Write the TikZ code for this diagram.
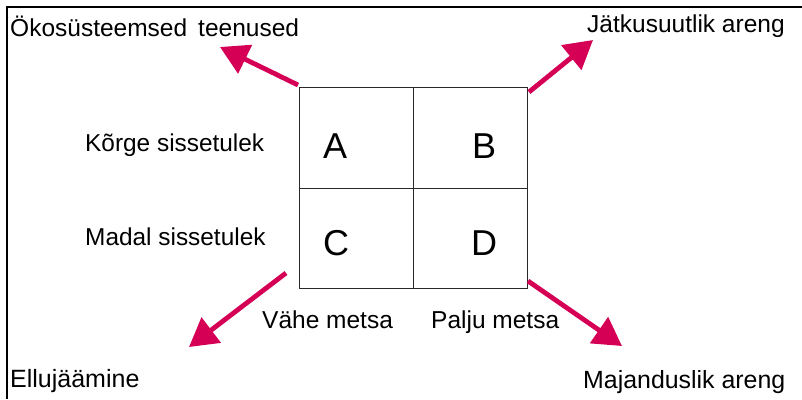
\documentclass[tikz,border=0pt]{standalone}
\usepackage{fontspec}
\setmainfont{Liberation Sans}
\usetikzlibrary{arrows.meta}
\definecolor{arrowred}{RGB}{213,0,85}
\definecolor{gridline}{RGB}{40,40,40}
\begin{document}
\begin{tikzpicture}[x=1pt,y=-1pt,
  lbl/.style={anchor=base west,inner sep=0pt,font=\fontsize{24.5}{28}\selectfont},
  sidelbl/.style={anchor=base west,inner sep=0pt,font=\fontsize{24.4}{28}\selectfont},
  letter/.style={anchor=base west,inner sep=0pt,font=\fontsize{36}{40}\selectfont},
  cell/.style={draw=gridline,line width=1.3pt,minimum width=114pt,minimum height=100.5pt,inner sep=0pt,anchor=north west},
  bigarrow/.style={draw=arrowred,line width=4.8pt,-{Triangle[length=28pt,width=31pt]}}]
  \useasboundingbox (0,0) rectangle (802,399);
  % frame on top and left
  \draw[line width=2pt] (802,7) -- (7,7) -- (7,399);

  % 2x2 grid
  \node[cell] (cA) at (299,87) {};
  \node[cell] (cB) at (413,87) {};
  \node[cell] (cC) at (299,187.5) {};
  \node[cell] (cD) at (413,187.5) {};

  \node[letter] (lA) at (323,158) {A};
  \node[letter] (lB) at (472,158) {B};
  \node[letter] (lC) at (323,255) {C};
  \node[letter] (lD) at (471,255) {D};

  % labels
  \node[lbl] (eco) at (10,36) {Ökosüsteemsed\hspace{0.45em}teenused};
  \node[lbl] (sus) at (587,32) {Jätkusuutlik areng};
  \node[sidelbl] (hi) at (85,151) {Kõrge sissetulek};
  \node[sidelbl] (lo) at (85,245) {Madal sissetulek};
  \node[lbl] (few) at (262,328) {Vähe metsa};
  \node[lbl] (many) at (431,328) {Palju metsa};
  \node[lbl,font=\fontsize{25}{29}\selectfont] (surv) at (10,387) {Ellujäämine};
  \node[lbl,font=\fontsize{24.9}{29}\selectfont] (econ) at (583,388) {Majanduslik areng};

  % arrow ends
  \coordinate (tNW) at (298,85);
  \coordinate (hNW) at (220,47);
  \coordinate (tNE) at (529,92);
  \coordinate (hNE) at (593,40);
  \coordinate (tSW) at (286,273);
  \coordinate (hSW) at (189,347);
  \coordinate (tSE) at (528,281);
  \coordinate (hSE) at (622,346);

  \draw[bigarrow] (tNW) -- (hNW);
  \draw[bigarrow] (tNE) -- (hNE);
  \draw[bigarrow] (tSW) -- (hSW);
  \draw[bigarrow] (tSE) -- (hSE);
\end{tikzpicture}
\end{document}
